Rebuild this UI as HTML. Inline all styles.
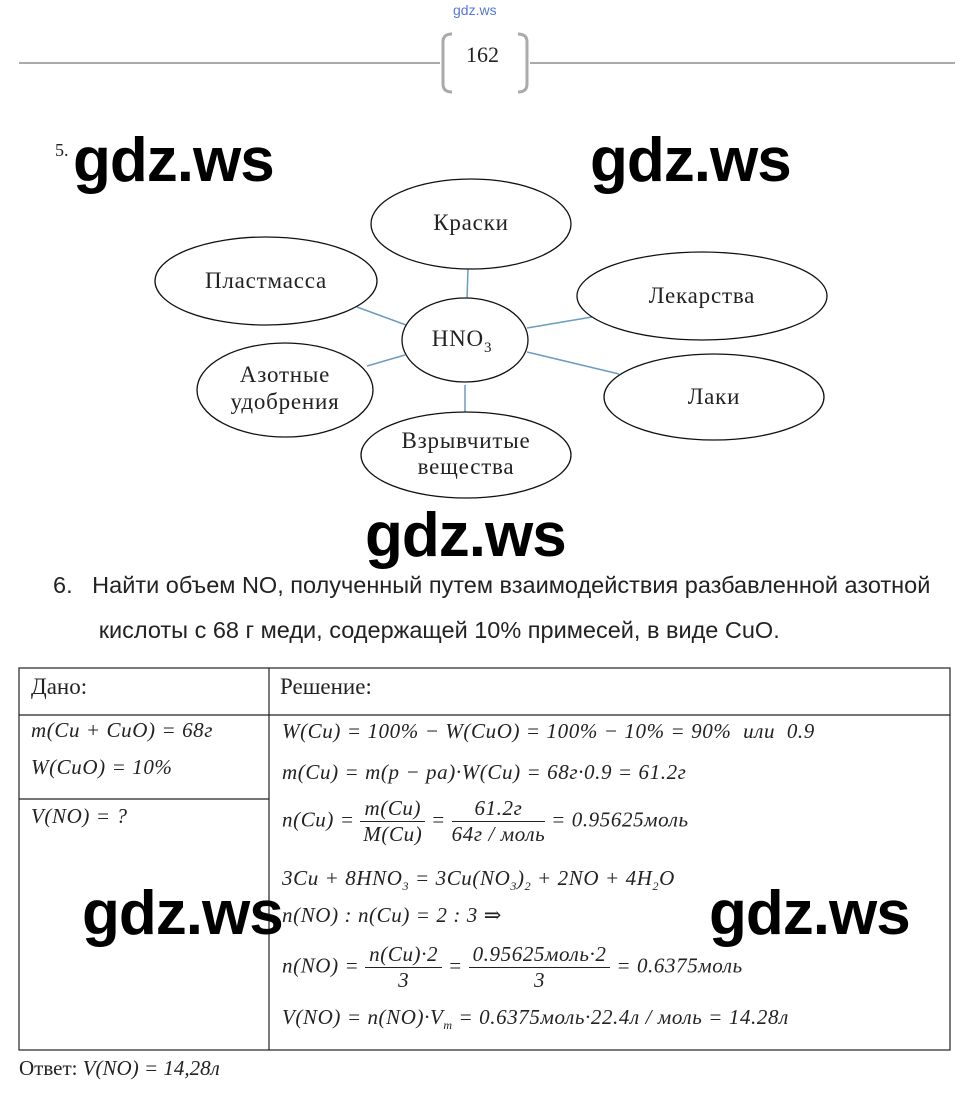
<!DOCTYPE html>
<html><head><meta charset="utf-8"><style>
body{margin:0;width:963px;height:1094px;background:#fff;position:relative;overflow:hidden;font-family:"Liberation Serif","DejaVu Serif",serif;color:#222}
.a{position:absolute;white-space:nowrap}
.wm{position:absolute;font-family:"Liberation Sans",sans-serif;font-weight:bold;font-size:62px;color:#000;letter-spacing:-1px;line-height:1}
.m{font-style:italic;font-size:21px;letter-spacing:0.6px}
.f{display:inline-block;vertical-align:middle;text-align:center}
.f span{display:block}
.f .n{border-bottom:1px solid #222;padding:0 4px}
</style></head><body>
<div class="a" style="left:453px;top:2px;font-family:'Liberation Sans',sans-serif;font-size:14px;color:#5577dd">gdz.ws</div>
<svg class="a" style="left:0;top:0" width="963" height="1094">
<line x1="19" y1="63" x2="440" y2="63" stroke="#aaa" stroke-width="2"/>
<line x1="530" y1="63" x2="955" y2="63" stroke="#aaa" stroke-width="2"/>
<path d="M452 34 Q443 34 443 42 L443 84 Q443 92 452 92" fill="none" stroke="#aaa" stroke-width="3"/>
<path d="M518 34 Q527 34 527 42 L527 84 Q527 92 518 92" fill="none" stroke="#aaa" stroke-width="3"/>
<g stroke="#6a9cc0" stroke-width="1.5">
<line x1="468" y1="268" x2="467" y2="300"/>
<line x1="357" y1="307" x2="406" y2="325"/>
<line x1="592" y1="317" x2="527" y2="328"/>
<line x1="367" y1="366" x2="405" y2="355"/>
<line x1="619" y1="374" x2="527" y2="352"/>
<line x1="465" y1="385" x2="465" y2="412"/>
</g>
<g fill="#fff" stroke="#111" stroke-width="1.3">
<ellipse cx="471" cy="224" rx="100" ry="45"/>
<ellipse cx="266" cy="281" rx="111" ry="44"/>
<ellipse cx="702" cy="296" rx="125" ry="44"/>
<ellipse cx="465" cy="340" rx="63" ry="42"/>
<ellipse cx="285" cy="390" rx="88" ry="47"/>
<ellipse cx="714" cy="397" rx="110" ry="43"/>
<ellipse cx="466" cy="455" rx="105" ry="43"/>
</g>
<g font-family="Liberation Serif,serif" font-size="23" fill="#222" text-anchor="middle" letter-spacing="0.8">
<text x="471" y="230">Краски</text>
<text x="266" y="288">Пластмасса</text>
<text x="702" y="303">Лекарства</text>
<text x="462" y="346">HNO<tspan font-size="15" dy="6">3</tspan></text>
<text x="285" y="382">Азотные</text>
<text x="285" y="409">удобрения</text>
<text x="714" y="404">Лаки</text>
<text x="466" y="448">Взрывчитые</text>
<text x="466" y="474">вещества</text>
</g>
<g stroke="#222" stroke-width="1.2">
<rect x="19" y="668" width="931" height="382" fill="none"/>
<line x1="19" y1="715" x2="950" y2="715"/>
<line x1="269" y1="668" x2="269" y2="1050"/>
<line x1="19" y1="799" x2="269" y2="799"/>
</g>
</svg>
<div class="a" style="left:466px;top:42px;font-size:22px">162</div>
<div class="a" style="left:55px;top:140px;font-size:18px">5.</div>
<div class="a" style="left:53px;top:563px;font-family:'Liberation Sans',sans-serif;font-size:23.5px;line-height:45px">6.&nbsp;&nbsp; Найти объем NO, полученный путем взаимодействия разбавленной азотной<br>&nbsp;&nbsp;&nbsp;&nbsp;&nbsp;&nbsp; кислоты с 68 г меди, содержащей 10% примесей, в виде CuO.</div>
<div class="a" style="left:31px;top:674px;font-size:23px">Дано:</div>
<div class="a" style="left:280px;top:674px;font-size:23px">Решение:</div>
<div class="a m" style="left:31px;top:718px">m(Cu + CuO) = 68г</div>
<div class="a m" style="left:31px;top:755px">W(CuO) = 10%</div>
<div class="a m" style="left:31px;top:804px">V(NO) = ?</div>
<div class="a m" style="left:282px;top:719px">W(Cu) = 100% − W(CuO) = 100% − 10% = 90% &nbsp;или&nbsp; 0.9</div>
<div class="a m" style="left:282px;top:760px">m(Cu) = m(p − pa)·W(Cu) = 68г·0.9 = 61.2г</div>
<div class="a m" style="left:282px;top:796px">n(Cu) = <span class="f"><span class="n">m(Cu)</span><span>M(Cu)</span></span> = <span class="f"><span class="n">61.2г</span><span>64г / моль</span></span> = 0.95625моль</div>
<div class="a m" style="left:282px;top:866px">3Cu + 8HNO<sub style="font-size:12px">3</sub> = 3Cu(NO<sub style="font-size:12px">3</sub>)<sub style="font-size:12px">2</sub> + 2NO + 4H<sub style="font-size:12px">2</sub>O</div>
<div class="a m" style="left:282px;top:903px">n(NO) : n(Cu) = 2 : 3 ⇒</div>
<div class="a m" style="left:282px;top:942px">n(NO) = <span class="f"><span class="n">n(Cu)·2</span><span>3</span></span> = <span class="f"><span class="n">0.95625моль·2</span><span>3</span></span> = 0.6375моль</div>
<div class="a m" style="left:282px;top:1005px">V(NO) = n(NO)·V<sub style="font-size:12px">m</sub> = 0.6375моль·22.4л / моль = 14.28л</div>
<div class="a" style="left:19px;top:1056px;font-size:21px">Ответ: <i>V(NO) = 14,28л</i></div>
<div class="wm" style="left:73px;top:130px">gdz.ws</div>
<div class="wm" style="left:590px;top:130px">gdz.ws</div>
<div class="wm" style="left:365px;top:505px">gdz.ws</div>
<div class="wm" style="left:82px;top:883px">gdz.ws</div>
<div class="wm" style="left:709px;top:883px">gdz.ws</div>
</body></html>
